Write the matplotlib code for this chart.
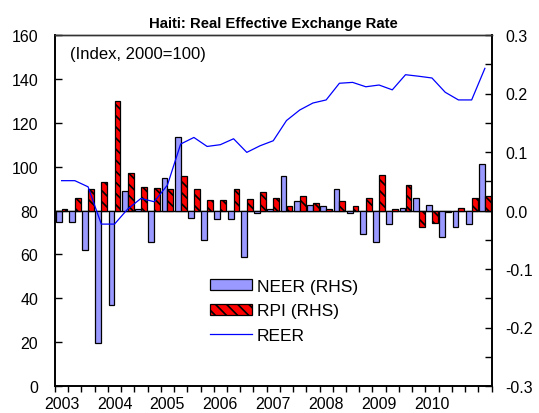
import matplotlib
matplotlib.use("Agg")
import matplotlib.pyplot as plt
import numpy as np
from matplotlib.ticker import FixedLocator, MultipleLocator, FormatStrFormatter
from matplotlib.patches import Patch
from matplotlib.lines import Line2D

plt.rcParams['font.family'] = ['Liberation Sans', 'DejaVu Sans']
plt.rcParams['axes.unicode_minus'] = False
plt.rcParams['hatch.linewidth'] = 1.2

quarters = [f"{y}Q{q}" for y in range(2003, 2011) for q in range(1, 5)] + ["2011Q1"]
year_labels = ["2003", "2004", "2005", "2006", "2007", "2008", "2009", "2010"]

neer = [-0.020, -0.020, -0.067, -0.226, -0.162, 0.034, 0.003, -0.053, 0.056, 0.125,
        -0.013, -0.050, -0.015, -0.015, -0.079, -0.004, 0.003, 0.059, 0.016, 0.009,
        0.007, 0.036, -0.005, -0.041, -0.054, -0.023, 0.005, 0.022, 0.010, -0.046,
        -0.028, -0.023, 0.080]
rpi = [0.003, 0.021, 0.037, 0.049, 0.188, 0.064, 0.041, 0.038, 0.036, 0.059,
       0.036, 0.018, 0.018, 0.036, 0.020, 0.032, 0.021, 0.008, 0.025, 0.013,
       0.003, 0.017, 0.008, 0.022, 0.060, 0.003, 0.044, -0.028, -0.021, -0.002,
       0.004, 0.021, 0.025]
reer = [93.6, 93.6, 90.8, 73.8, 73.8, 80.7, 85.5, 84.0, 91.6, 110.3,
        113.3, 109.2, 110.0, 112.7, 106.5, 109.5, 111.8, 121.0, 125.8, 129.0,
        130.4, 138.0, 138.4, 136.4, 137.2, 135.0, 141.9, 141.2, 140.4, 133.9,
        130.4, 130.4, 144.8]

x = np.arange(len(quarters))
fs = 11.5

fig = plt.figure(figsize=(5.39, 4.14), dpi=100)
ax = fig.add_axes([55/539, 1-387/414, (491.5-55)/539, (387-36)/414])
ax2 = ax.twinx()

w = 0.44
ax2.bar(x - 0.225, neer, width=w, color='#9999FF', edgecolor='black', linewidth=0.9, zorder=2)
ax2.bar(x + 0.225, rpi, width=w, color='#FF0000', edgecolor='black', linewidth=0.9,
        hatch='\\\\\\', zorder=2)
ax2.axhline(0, color='black', linewidth=1.0, zorder=1)

ax.plot(x, reer, color='#0000FF', linewidth=0.9, zorder=3)
ax.set_zorder(ax2.get_zorder() + 1)
ax.patch.set_visible(False)

ax.set_xlim(-0.5, len(quarters) - 0.5)
ax.set_ylim(0, 160)
ax2.set_ylim(-0.3, 0.3)

ax.yaxis.set_major_locator(MultipleLocator(20))
ax.tick_params(axis='y', direction='in', length=5, width=1.0, labelsize=fs, pad=12)
ax2.yaxis.set_major_locator(MultipleLocator(0.1))
ax2.yaxis.set_minor_locator(MultipleLocator(0.05))
ax2.yaxis.set_major_formatter(FormatStrFormatter('%.1f'))
ax2.tick_params(axis='y', which='both', direction='in', length=5, width=1.0, labelsize=fs, pad=10)

ax.xaxis.set_major_locator(FixedLocator(np.arange(-0.5, len(quarters), 1.0)))
ax.xaxis.set_major_formatter(plt.NullFormatter())
ax.set_xticks(x[::4][:len(year_labels)], year_labels, minor=True)
ax.tick_params(axis='x', which='major', direction='out', length=4.5, width=1.0)
ax.tick_params(axis='x', which='minor', length=0, labelsize=fs, pad=7)

for a in (ax, ax2):
    for s in ('left', 'right', 'bottom'):
        a.spines[s].set_linewidth(1.2)
        a.spines[s].set_color('black')
    a.spines['top'].set_linewidth(1.0)
    a.spines['top'].set_color('#333333')

ax.set_title("Haiti: Real Effective Exchange Rate", fontsize=10.7, fontweight='bold', pad=6)
ax.text(0.034, 0.946, "(Index, 2000=100)", transform=ax.transAxes, fontsize=12,
        va='center', ha='left')

handles = [Patch(facecolor='#9999FF', edgecolor='black', linewidth=0.9),
           Patch(facecolor='#FF0000', edgecolor='black', linewidth=0.9, hatch='\\\\\\'),
           Line2D([0], [0], color='#0000FF', linewidth=0.9)]
labels = ["NEER (RHS)", "RPI (RHS)", "REER"]
ax.legend(handles, labels, loc='upper left', bbox_to_anchor=(0.355, 0.305),
          frameon=False, fontsize=12.5, borderpad=0, borderaxespad=0,
          handlelength=2.4, handleheight=0.6, handletextpad=0.3, labelspacing=0.55)

fig.savefig("out.png", dpi=100)
